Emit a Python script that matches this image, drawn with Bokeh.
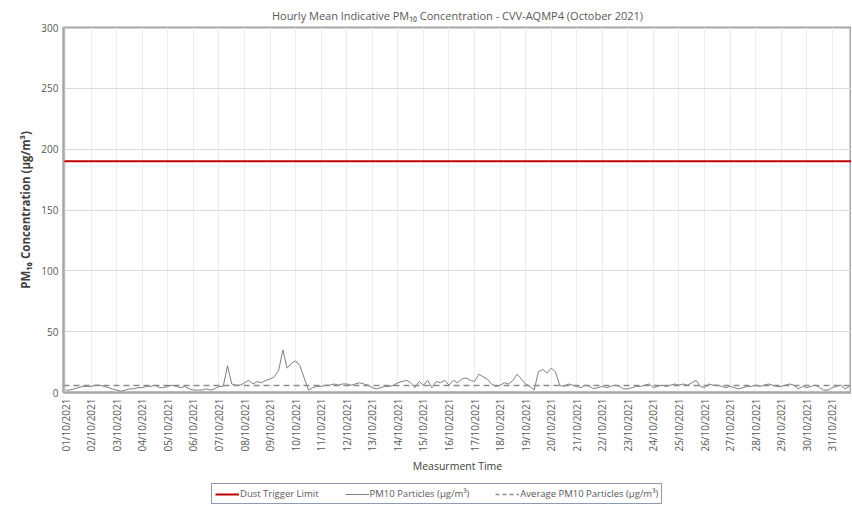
from bokeh.plotting import figure
from bokeh.models import Range1d, FixedTicker, Legend, LegendItem, ColumnDataSource
from bokeh.layouts import column
from bokeh.embed import file_html
from bokeh.resources import INLINE
import math

# 4-hourly readings (µg/m³), 6 per day, October 2021
pm10 = [
    2, 2, 3, 4, 5, 5,
    5, 6, 6, 5, 4, 3,
    2, 1, 2, 3, 3, 4,
    4, 5, 5, 6, 4, 4,
    5, 6, 5, 4, 5, 3,
    2, 2, 2, 3, 2, 3,
    5, 5, 22, 7, 6, 6,
    8, 10, 7, 9, 8, 10,
    11, 13, 18, 35, 20, 24,
    26, 22, 12, 2, 4, 5,
    5, 6, 6, 7, 6, 7,
    7, 6, 7, 8, 7, 6,
    4, 3, 4, 5, 5, 6,
    8, 9, 10, 8, 4, 9,
    6, 10, 4, 9, 8, 10,
    6, 10, 8, 11, 12, 10,
    9, 15, 13, 11, 7, 5,
    6, 8, 7, 10, 15, 11,
    7, 5, 2, 17, 19, 16,
    20, 17, 6, 5, 7, 6,
    5, 4, 6, 5, 3, 4,
    5, 4, 5, 6, 5, 3,
    3, 4, 5, 5, 6, 7,
    4, 5, 6, 5, 6, 7,
    6, 7, 6, 8, 10, 5,
    4, 7, 6, 6, 5, 4,
    5, 4, 3, 4, 5, 5,
    6, 5, 6, 7, 6, 5,
    5, 6, 7, 6, 3, 5,
    4, 5, 6, 4, 2, 2,
    4, 5, 6, 3, 5,
]
hours = [i * 4 for i in range(len(pm10))]
average_pm10 = 5.8
dust_trigger = 190
day_labels = ["%02d/10/2021" % d for d in range(1, 32)]
day_hours = [24 * i for i in range(31)]
y_ticks = [0, 50, 100, 150, 200, 250, 300]
series_names = ["Dust Trigger Limit", "PM10 Particles (\u00b5g/m\u00b3)",
                "Average PM10 Particles (\u00b5g/m\u00b3)"]

FONT = "Open Sans"
TXT = "#595959"
RED = "#c00000"
GREY = "#7f7f7f"
DASH = "#8c8c8c"

p = figure(frame_width=788, frame_height=365, output_backend="svg", toolbar_location=None,
           x_range=Range1d(-2, 738), y_range=Range1d(0, 300),
           min_border_left=63, min_border_right=0, min_border_top=20, min_border_bottom=0,
           title="Hourly Mean Indicative PM\u2081\u2080 Concentration - CVV-AQMP4 (October 2021)")
p.title.align = "center"
p.title.text_font = FONT
p.title.text_font_size = "11px"
p.title.text_font_style = "normal"
p.title.text_color = TXT
p.title.offset = 24

p.outline_line_color = "#a6a6a6"
p.outline_line_width = 2

p.line(x=[-2, 738], y=[dust_trigger, dust_trigger], line_color=RED, line_width=2)
src = ColumnDataSource(dict(x=hours, y=pm10))
p.line("x", "y", source=src, line_color=GREY, line_width=1)
p.line(x=[-2, 738], y=[average_pm10, average_pm10], line_color=DASH,
       line_width=1.5, line_dash="6 4")

p.xaxis.ticker = FixedTicker(ticks=day_hours)
p.xaxis.major_label_overrides = {h: lab for h, lab in zip(day_hours, day_labels)}
p.xaxis.major_label_orientation = math.pi / 2
p.xaxis.axis_label = "Measurment Time"
p.yaxis.ticker = FixedTicker(ticks=y_ticks)
p.yaxis.axis_label = "PM\u2081\u2080 Concentration (\u00b5g/m\u00b3)"

for ax in (p.xaxis, p.yaxis):
    ax.major_label_text_font = FONT
    ax.major_label_text_font_size = "10px"
    ax.major_label_text_color = TXT
    ax.axis_label_text_font = FONT
    ax.axis_label_text_font_size = "10.5px"
    ax.axis_label_text_font_style = "normal"
    ax.axis_label_text_color = "#404040"
    ax.major_tick_out = 0
    ax.major_tick_in = 0
    ax.minor_tick_line_color = None
    ax.axis_line_color = "#a6a6a6"
    ax.axis_line_width = 2
p.yaxis.axis_label_text_font_style = "bold"
p.yaxis.axis_label_text_font_size = "11.5px"
p.xaxis.major_label_standoff = 6
p.xaxis.axis_label_standoff = 4

p.xgrid.grid_line_color = "#ececec"
p.ygrid.grid_line_color = "#d9d9d9"

# legend strip below the chart (sample lines lie outside its visible range)
q = figure(frame_width=851, frame_height=30, output_backend="svg", toolbar_location=None,
           x_range=Range1d(0, 1), y_range=Range1d(0, 1),
           min_border_left=0, min_border_right=0, min_border_top=0, min_border_bottom=0)
q.axis.visible = False
q.grid.visible = False
q.outline_line_color = None
l1 = q.line([-5, -4], [-5, -5], line_color=RED, line_width=2)
l2 = q.line([-5, -4], [-5, -5], line_color=GREY, line_width=1)
l3 = q.line([-5, -4], [-5, -5], line_color=DASH, line_width=1.5, line_dash="4 3")
legend = Legend(items=[LegendItem(label=n, renderers=[r]) for n, r in zip(series_names, [l1, l2, l3])],
                orientation="horizontal", location=(211, 1))
legend.label_text_font = FONT
legend.label_text_font_size = "9.5px"
legend.label_text_color = TXT
legend.border_line_color = "#1f3864"
legend.border_line_width = 1.5
legend.spacing = 26
legend.glyph_width = 24
legend.glyph_height = 12
legend.label_standoff = 1
legend.label_height = 12
legend.margin = 0
legend.padding = 3
q.add_layout(legend, "center")

page = column(p, q, spacing=0)
open("out.html", "w").write(file_html(page, INLINE))
